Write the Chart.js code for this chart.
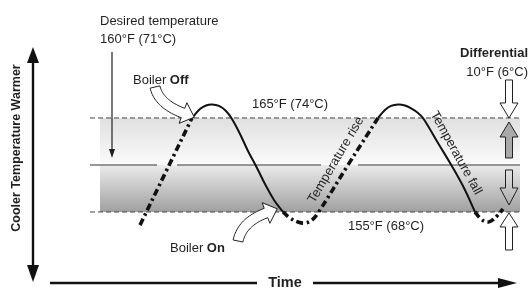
<!DOCTYPE html>
<html><head><meta charset="utf-8">
<script src="https://cdn.jsdelivr.net/npm/chart.js@4.4.0/dist/chart.umd.min.js"></script>
<style>html,body{margin:0;padding:0;background:#fff;}#wrap{width:530px;height:290px;position:relative;}</style>
</head><body><div id="wrap"><canvas id="c" width="530" height="290"></canvas></div>
<script>
// Time in arbitrary units, temperature in °F
const heatRise1Time = [14.0, 16.6, 19.2];
const heatRise1Temp = [153.6, 159.3, 165.0];
const coolFall1Time = [19.2, 20.0, 20.6, 21.2, 21.9, 22.6, 23.2, 24.0, 24.8, 25.7, 26.5, 27.4, 28.3];
const coolFall1Temp = [165.0, 165.96, 166.33, 166.44, 166.28, 165.74, 164.89, 163.30, 161.49, 159.68, 157.98, 156.28, 155.0];
const heatRise2Time = [28.3, 29.0, 29.8, 30.5, 31.2, 31.8, 34.8, 37.8];
const heatRise2Temp = [155.0, 154.36, 153.94, 153.83, 154.15, 154.89, 160.0, 165.0];
const coolFall2Time = [37.8, 38.5, 39.1, 39.8, 40.5, 41.2, 41.8, 42.3, 43.8, 45.3, 46.5, 47.5];
const coolFall2Temp = [165.0, 165.85, 166.28, 166.44, 166.33, 165.96, 165.53, 165.0, 162.34, 159.68, 157.34, 155.0];
const heatRise3Time = [47.5, 48.0, 48.6, 49.1, 49.7, 50.3];
const heatRise3Temp = [155.0, 154.36, 153.94, 154.04, 154.57, 155.32];
const setPointF = 160, highLimitF = 165, lowLimitF = 155;
const limitLineTime = [9.0, 52.0];
const bandTime = [10.0, 52.0];
const setLineSegments = [[9.0, 15.7], [17.7, 32.1], [35.8, 52.0]];
const labels = {
  desired: ["Desired temperature", "160°F (71°C)"],
  high: "165°F (74°C)", low: "155°F (68°C)",
  diff: ["Differential", "10°F (6°C)"],
  rise: "Temperature rise", fall: "Temperature fall",
  yAxis: "Cooler Temperature Warmer", xAxis: "Time"
};

const zip = (xs, ys) => xs.map((x, i) => ({x, y: ys[i]}));
function joinSegments(list) {
  const out = [];
  list.forEach((pts, i) => { if (i) out.push({x: (pts[0].x + out[out.length-1].x)/2, y: null}); out.push(...pts); });
  return out;
}
const heatData = joinSegments([zip(heatRise1Time, heatRise1Temp), zip(heatRise2Time, heatRise2Temp), zip(heatRise3Time, heatRise3Temp)]);
const coolData = joinSegments([zip(coolFall1Time, coolFall1Temp), zip(coolFall2Time, coolFall2Temp)]);
const setData = joinSegments(setLineSegments.map(s => s.map(t => ({x: t, y: setPointF}))));
const hiData = limitLineTime.map(t => ({x: t, y: highLimitF}));
const loData = limitLineTime.map(t => ({x: t, y: lowLimitF}));

const INK = '#231f20';
const FONT = '"Liberation Sans", Arial, Helvetica, sans-serif';

function vArrow(ctx, x, yTail, yTip, headLen, shaftW, headW, fill) {
  const d = yTip > yTail ? 1 : -1;
  const yb = yTip - d * headLen;
  ctx.beginPath();
  ctx.moveTo(x - shaftW/2, yTail);
  ctx.lineTo(x - shaftW/2, yb);
  ctx.lineTo(x - headW/2, yb);
  ctx.lineTo(x, yTip);
  ctx.lineTo(x + headW/2, yb);
  ctx.lineTo(x + shaftW/2, yb);
  ctx.lineTo(x + shaftW/2, yTail);
  ctx.closePath();
  if (fill) { ctx.fillStyle = fill; ctx.fill(); }
  ctx.lineWidth = 1; ctx.strokeStyle = INK; ctx.stroke();
}
function curvedArrow(ctx, p0, c, p1, headLen, shaftW, headW) {
  const N = 24, L = [], R = [];
  for (let i = 0; i <= N; i++) {
    const t = i / N;
    const x = (1-t)*(1-t)*p0[0] + 2*(1-t)*t*c[0] + t*t*p1[0];
    const y = (1-t)*(1-t)*p0[1] + 2*(1-t)*t*c[1] + t*t*p1[1];
    const dx = 2*(1-t)*(c[0]-p0[0]) + 2*t*(p1[0]-c[0]);
    const dy = 2*(1-t)*(c[1]-p0[1]) + 2*t*(p1[1]-c[1]);
    const len = Math.hypot(dx, dy), nx = -dy/len, ny = dx/len;
    L.push([x + nx*shaftW/2, y + ny*shaftW/2]);
    R.push([x - nx*shaftW/2, y - ny*shaftW/2]);
  }
  const ex = p1[0]-c[0], ey = p1[1]-c[1], el = Math.hypot(ex, ey);
  const ux = ex/el, uy = ey/el, nx = -uy, ny = ux;
  ctx.beginPath();
  L.forEach((p, i) => i ? ctx.lineTo(p[0], p[1]) : ctx.moveTo(p[0], p[1]));
  ctx.lineTo(p1[0] + nx*headW/2, p1[1] + ny*headW/2);
  ctx.lineTo(p1[0] + ux*headLen, p1[1] + uy*headLen);
  ctx.lineTo(p1[0] - nx*headW/2, p1[1] - ny*headW/2);
  for (let i = N; i >= 0; i--) ctx.lineTo(R[i][0], R[i][1]);
  ctx.closePath();
  ctx.fillStyle = '#fff'; ctx.fill();
  ctx.lineWidth = 1; ctx.strokeStyle = INK; ctx.stroke();
}
function mixedText(ctx, parts, x, y, size) {
  let cx = x;
  parts.forEach(([txt, bold]) => {
    ctx.font = (bold ? 'bold ' : '') + size + 'px ' + FONT;
    ctx.fillText(txt, cx, y);
    cx += ctx.measureText(txt).width;
  });
}

const bandPlugin = {
  id: 'band',
  beforeDatasetsDraw(chart) {
    const {ctx, scales: {x, y}} = chart;
    const x0 = x.getPixelForValue(bandTime[0]), x1 = x.getPixelForValue(bandTime[1]);
    const yt = y.getPixelForValue(highLimitF), ym = y.getPixelForValue(setPointF), yb = y.getPixelForValue(lowLimitF);
    ctx.save();
    let g = ctx.createLinearGradient(0, yt, 0, ym);
    g.addColorStop(0, '#e0e0e0'); g.addColorStop(1, '#fbfbfb');
    ctx.fillStyle = g; ctx.fillRect(x0, yt, x1 - x0, ym - yt);
    g = ctx.createLinearGradient(0, ym, 0, yb);
    g.addColorStop(0, '#ebebeb'); g.addColorStop(1, '#a0a0a0');
    ctx.fillStyle = g; ctx.fillRect(x0, ym, x1 - x0, yb - ym);
    ctx.restore();
  }
};

const notesPlugin = {
  id: 'notes',
  afterDatasetsDraw(chart) {
    const {ctx, scales: {x, y}} = chart;
    const yHi = y.getPixelForValue(highLimitF), yLo = y.getPixelForValue(lowLimitF);
    ctx.save();
    ctx.fillStyle = INK; ctx.strokeStyle = INK;
    ctx.textBaseline = 'alphabetic';
    ctx.font = '13px ' + FONT;
    ctx.textAlign = 'left';
    ctx.fillText(labels.desired[0], 100, 25);
    ctx.fillText(labels.desired[1], 100, 43);
    // desired temperature pointer
    ctx.lineWidth = 1.2;
    ctx.beginPath(); ctx.moveTo(112, 52); ctx.lineTo(112, 154); ctx.stroke();
    ctx.beginPath(); ctx.moveTo(109, 149); ctx.lineTo(112, 158); ctx.lineTo(115, 149); ctx.closePath(); ctx.fill();

    mixedText(ctx, [['Boiler ', false], ['Off', true]], 133, 84, 13);
    mixedText(ctx, [['Boiler ', false], ['On', true]], 170, 252, 13);
    ctx.font = '13px ' + FONT;
    ctx.textAlign = 'center';
    ctx.fillText(labels.high, 290, yHi - 10);
    ctx.fillText(labels.low, 386, yLo + 18);
    ctx.textAlign = 'right';
    ctx.font = 'bold 13px ' + FONT;
    ctx.fillText(labels.diff[0], 528, 57);
    ctx.font = '13px ' + FONT;
    ctx.fillText(labels.diff[1], 528, 76);

    // rotated curve labels
    ctx.textAlign = 'center'; ctx.textBaseline = 'middle';
    ctx.save(); ctx.translate(336, 160); ctx.rotate(-59.5 * Math.PI / 180); ctx.fillText(labels.rise, 0, 0); ctx.restore();
    ctx.save(); ctx.translate(456, 153); ctx.rotate(61 * Math.PI / 180); ctx.fillText(labels.fall, 0, 0); ctx.restore();

    // axis labels
    ctx.font = 'bold 12.5px ' + FONT;
    ctx.save(); ctx.translate(17, 148); ctx.rotate(-Math.PI / 2); ctx.fillText(labels.yAxis, 0, 0); ctx.restore();
    ctx.font = 'bold 14.5px ' + FONT;
    ctx.fillText(labels.xAxis, 285, 283);

    // vertical axis double arrow
    ctx.lineWidth = 2.4; ctx.fillStyle = '#111'; ctx.strokeStyle = '#111';
    ctx.beginPath(); ctx.moveTo(33, 58); ctx.lineTo(33, 271); ctx.stroke();
    ctx.beginPath(); ctx.moveTo(27, 63); ctx.lineTo(33, 47); ctx.lineTo(39, 63); ctx.closePath(); ctx.fill();
    ctx.beginPath(); ctx.moveTo(27, 265); ctx.lineTo(33, 282); ctx.lineTo(39, 265); ctx.closePath(); ctx.fill();
    // time arrow
    ctx.beginPath(); ctx.moveTo(50, 283); ctx.lineTo(257, 283); ctx.stroke();
    ctx.beginPath(); ctx.moveTo(313, 283); ctx.lineTo(502, 283); ctx.stroke();
    ctx.beginPath(); ctx.moveTo(498, 278); ctx.lineTo(517, 283); ctx.lineTo(498, 288); ctx.closePath(); ctx.fill();

    // differential arrows
    const ax = 509;
    vArrow(ctx, ax, yHi - 38, yHi, 15, 7, 18, '#fff');
    vArrow(ctx, ax, yHi + 40, yHi + 4, 15, 7, 18, '#a9a9a9');
    vArrow(ctx, ax, yHi + 52, yLo - 7, 17, 7, 18, null);
    vArrow(ctx, ax, yLo + 38, yLo + 1, 14, 7, 18, '#fff');

    // boiler callout arrows
    curvedArrow(ctx, [155, 87], [159, 104], [183, 113], 12, 10, 22);
    curvedArrow(ctx, [238, 241], [242, 222], [266, 213], 12, 10, 22);
    ctx.restore();
  }
};

new Chart(document.getElementById('c'), {
  type: 'line',
  data: {
    datasets: [
      {label: 'Cooling', data: coolData, borderColor: '#111', borderWidth: 2, tension: 0.4, pointRadius: 0, spanGaps: false},
      {label: 'Heating', data: heatData, borderColor: '#111', borderWidth: 3.6, borderDash: [7, 3.5, 2.5, 3.5], borderCapStyle: 'butt', tension: 0.4, pointRadius: 0, spanGaps: false},
      {label: 'Desired', data: setData, borderColor: '#777', borderWidth: 1.3, tension: 0, pointRadius: 0, spanGaps: false},
      {label: 'High', data: hiData, borderColor: '#444', borderWidth: 1, borderDash: [5, 3], tension: 0, pointRadius: 0},
      {label: 'Low', data: loData, borderColor: '#444', borderWidth: 1, borderDash: [5, 3], tension: 0, pointRadius: 0}
    ]
  },
  options: {
    responsive: false, animation: false, events: [],
    layout: {padding: 0},
    plugins: {legend: {display: false}, tooltip: {enabled: false}},
    scales: {
      x: {type: 'linear', min: 0, max: 53, display: false},
      y: {type: 'linear', min: 146.70, max: 177.55, display: false}
    }
  },
  plugins: [bandPlugin, notesPlugin]
});
</script>
</body></html>
